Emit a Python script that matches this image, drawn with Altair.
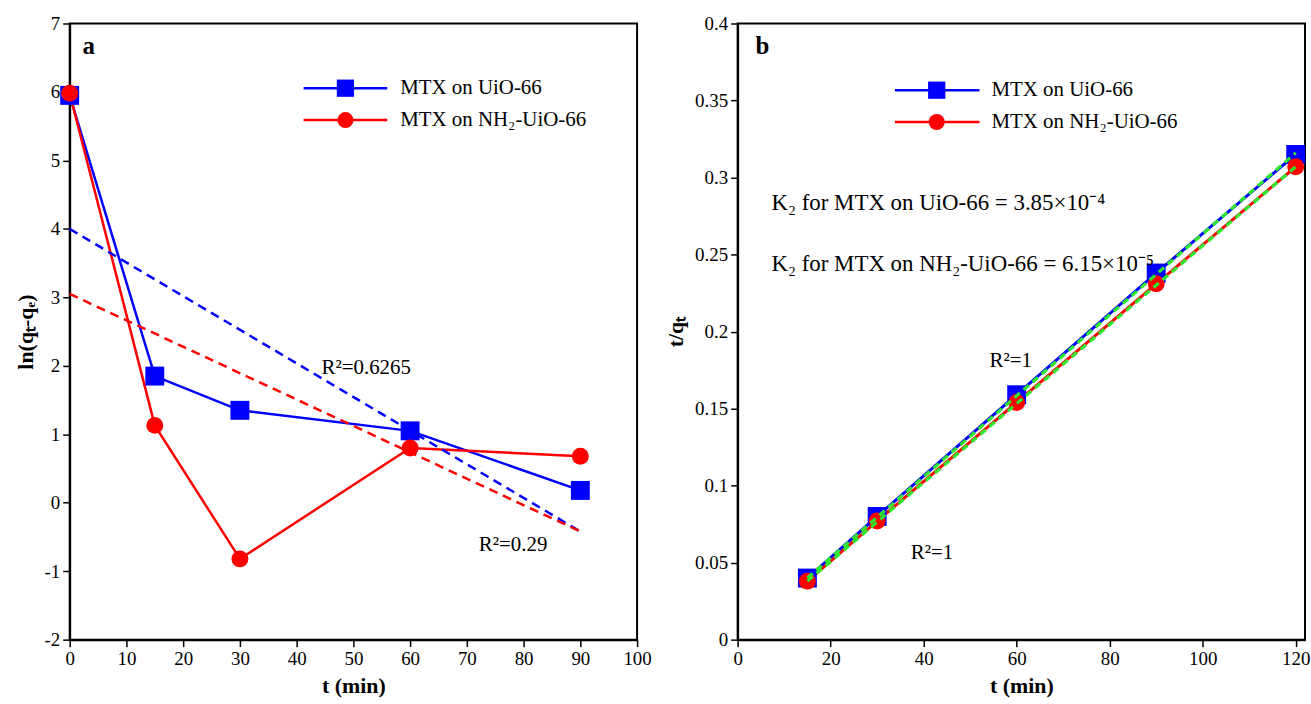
import altair as alt
import pandas as pd

# ---------------- data ----------------
series = ["MTX on UiO-66", "MTX on NH₂-UiO-66"]
colors = ["#0000FF", "#FF0000"]
fit_color = "#2EE82E"

# panel a: pseudo-first-order
t_a = [0, 15, 30, 60, 90]
ln_uio = [5.95, 1.85, 1.35, 1.05, 0.18]
ln_nh2 = [5.98, 1.13, -0.82, 0.80, 0.68]
fit_t_a = [0, 90]
fit_uio_a = [4.00, -0.42]
fit_nh2_a = [3.05, -0.42]

# panel b: pseudo-second-order
t_b = [15, 30, 60, 90, 120]
tq_uio = [0.040, 0.080, 0.159, 0.238, 0.315]
tq_nh2 = [0.038, 0.077, 0.154, 0.231, 0.307]
fit_t_b = [15, 120]
fit_uio_b = [0.040, 0.316]
fit_nh2_b = [0.038, 0.307]

xticks_a = list(range(0, 101, 10))
yticks_a = list(range(-2, 8))
xticks_b = [0, 20, 40, 60, 80, 100, 120]
yticks_b = [0, 0.05, 0.1, 0.15, 0.2, 0.25, 0.3, 0.35, 0.4]

r2_a = ["R²=0.6265", "R²=0.29"]
r2_b = ["R²=1", "R²=1"]
k2_texts = ["K₂ for MTX on UiO-66 = 3.85×10⁻⁴", "K₂ for MTX on NH₂-UiO-66 = 6.15×10⁻⁵"]

FONT = "Times New Roman, Liberation Serif, Times, serif"
W, H = 570, 619


def frame(ts, ys):
    return pd.DataFrame({"t": ts, "v": ys})


def text_layer(label, x, y, size=21, weight="normal", align="left"):
    return alt.Chart(pd.DataFrame({"label": [label]})).mark_text(
        font=FONT, fontSize=size, fontWeight=weight, align=align,
        baseline="middle", color="black"
    ).encode(text="label:N", x=alt.value(x), y=alt.value(y))


def legend_layers(x0, x1, xs, xt, ys):
    out = []
    shapes = ["square", "circle"]
    sizes = [300, 260]
    for s, c, sh, sz, y in zip(series, colors, shapes, sizes, ys):
        one = pd.DataFrame({"label": [s]})
        out.append(alt.Chart(one).mark_rule(color=c, strokeWidth=2.5).encode(
            x=alt.value(x0), x2=alt.value(x1), y=alt.value(y)))
        out.append(alt.Chart(one).mark_point(shape=sh, filled=True, size=sz, color=c, opacity=1).encode(
            x=alt.value(xs), y=alt.value(y)))
        out.append(text_layer(s, xt, y))
    return out


def panel(ts, ys_list, fit_ts, fit_list, xenc, yenc, green_fit):
    layers = []
    lw = 3 if green_fit else 2.5
    for ys, c in zip(ys_list, colors):
        layers.append(alt.Chart(frame(ts, ys)).mark_line(color=c, strokeWidth=lw).encode(xenc, yenc))
    if not green_fit:
        for fys, c in zip(fit_list, colors):
            layers.append(alt.Chart(frame(fit_ts, fys)).mark_line(
                color=c, strokeWidth=2.5, strokeDash=[9, 6]).encode(xenc, yenc))
    layers.append(alt.Chart(frame(ts, ys_list[0])).mark_point(
        shape="square", filled=True, size=361, color=colors[0], opacity=1).encode(xenc, yenc))
    layers.append(alt.Chart(frame(ts, ys_list[1])).mark_point(
        shape="circle", filled=True, size=290, color=colors[1], opacity=1).encode(xenc, yenc))
    if green_fit:
        for fys in fit_list:
            layers.append(alt.Chart(frame(fit_ts, fys)).mark_line(
                color=fit_color, strokeWidth=3.2, strokeDash=[7, 5]).encode(xenc, yenc))
    return layers


label_expr = "replace('' + datum.value, '\u2212', '-')"

# ---------------- panel a ----------------
xa = alt.X("t:Q", scale=alt.Scale(domain=[0, 100], nice=False),
           axis=alt.Axis(values=xticks_a, title="t (min)"))
ya = alt.Y("v:Q", scale=alt.Scale(domain=[-2, 7], nice=False),
           axis=alt.Axis(values=yticks_a, title="ln(qₜ-qₑ)", labelExpr=label_expr))

layers_a = panel(t_a, [ln_uio, ln_nh2], fit_t_a, [fit_uio_a, fit_nh2_a], xa, ya, False)
layers_a += legend_layers(235, 319, 277, 332, [65, 97])
layers_a.append(text_layer("a", 13, 23, size=25, weight="bold"))
layers_a.append(text_layer(r2_a[0], 253, 346))
layers_a.append(text_layer(r2_a[1], 411, 524))
left = alt.layer(*layers_a).properties(width=W, height=H)

# ---------------- panel b ----------------
xb = alt.X("t:Q", scale=alt.Scale(domain=[0, 122], nice=False),
           axis=alt.Axis(values=xticks_b, title="t (min)"))
yb = alt.Y("v:Q", scale=alt.Scale(domain=[0, 0.4], nice=False),
           axis=alt.Axis(values=yticks_b, title="t/qₜ", format="~g"))

layers_b = panel(t_b, [tq_uio, tq_nh2], fit_t_b, [fit_uio_b, fit_nh2_b], xb, yb, True)
layers_b += legend_layers(158, 243, 200, 255, [67, 99])
layers_b.append(text_layer("b", 18, 23, size=25, weight="bold"))
layers_b.append(text_layer(k2_texts[0], 34, 180, size=23))
layers_b.append(text_layer(k2_texts[1], 34, 242, size=23))
layers_b.append(text_layer(r2_b[0], 253, 339))
layers_b.append(text_layer(r2_b[1], 174, 532))
right = alt.layer(*layers_b).properties(width=W, height=H)

chart = alt.hconcat(left, right, spacing=10).properties(
    padding={"left": 13, "top": 12, "right": 0, "bottom": 0},
    background="white",
).configure_axis(
    labelFont=FONT, labelFontSize=19, labelColor="black", labelFlush=False,
    labelPadding=3, labelOverlap=False,
    titleFont=FONT, titleFontSize=22, titleFontWeight="bold", titleColor="black",
    titlePadding=7,
    domainColor="black", domainWidth=2, tickColor="black", tickWidth=1.5, tickSize=7,
    grid=False,
).configure_view(stroke="black", strokeWidth=2)

chart.save("out.html", embed_options={"renderer": "svg", "actions": False})
